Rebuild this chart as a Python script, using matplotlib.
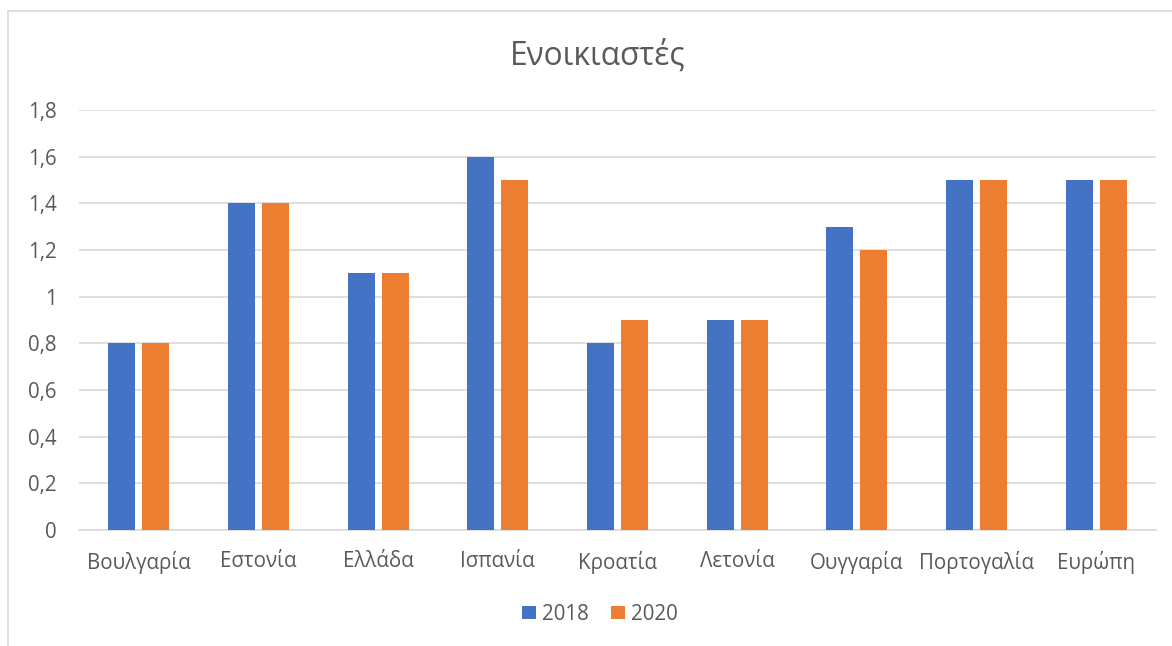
import numpy as np
import matplotlib
matplotlib.use('Agg')
import matplotlib.pyplot as plt
from matplotlib.patches import Rectangle

# data
countries = ['Βουλγαρία', 'Εστονία', 'Ελλάδα', 'Ισπανία', 'Κροατία',
             'Λετονία', 'Ουγγαρία', 'Πορτογαλία', 'Ευρώπη']
y2018 = [0.8, 1.4, 1.1, 1.6, 0.8, 0.9, 1.3, 1.5, 1.5]
y2020 = [0.8, 1.4, 1.1, 1.5, 0.9, 0.9, 1.2, 1.5, 1.5]
yticks = [0, 0.2, 0.4, 0.6, 0.8, 1, 1.2, 1.4, 1.6, 1.8]
ytick_labels = ['0', '0,2', '0,4', '0,6', '0,8', '1', '1,2', '1,4', '1,6', '1,8']

plt.rcParams['font.family'] = ['Open Sans', 'DejaVu Sans']
txt = '#595959'

fig = plt.figure(figsize=(11.72, 6.46), dpi=100)
ax = fig.add_axes([0.0674, 0.1796, 0.9189, 0.6502])

# chart border (cut off at right and bottom like the screenshot)
fig.patches.append(Rectangle((8/1172, -0.1), 1.2, 1 - 11/646 + 0.1,
                             transform=fig.transFigure, fill=False,
                             edgecolor='#d9d9d9', linewidth=1.2))

x = np.arange(len(countries))
w = 0.226
b1 = ax.bar(x - 0.142, y2018, w, color='#4472C4', label='2018', zorder=3)
b2 = ax.bar(x + 0.142, y2020, w, color='#ED7D31', label='2020', zorder=3)

ax.set_xlim(-0.5, len(countries) - 0.5)
ax.set_ylim(0, 1.8)
ax.set_yticks(yticks)
ax.set_yticklabels(ytick_labels)
ax.set_xticks(x)
ax.set_xticklabels(countries)
ax.grid(axis='y', color='#d9d9d9', linewidth=1.2, zorder=0)
for s in ['top', 'right', 'left']:
    ax.spines[s].set_visible(False)
ax.spines['bottom'].set_color('#d9d9d9')
ax.spines['bottom'].set_linewidth(1.2)
ax.tick_params(axis='both', length=0, labelsize=14.8, labelcolor=txt)
ax.tick_params(axis='y', pad=16)
ax.tick_params(axis='x', pad=15)

fig.text(0.51, 0.913, 'Ενοικιαστές', ha='center', va='center',
         fontsize=22.8, color=txt)

leg = fig.legend(handles=[b1, b2], loc='center', bbox_to_anchor=(0.512, 0.049),
                 ncol=2, frameon=False, fontsize=14.8, handlelength=0.65,
                 handleheight=0.65, handletextpad=0.3, columnspacing=1.1)
for t in leg.get_texts():
    t.set_color(txt)

fig.savefig('out.png', dpi=100)
